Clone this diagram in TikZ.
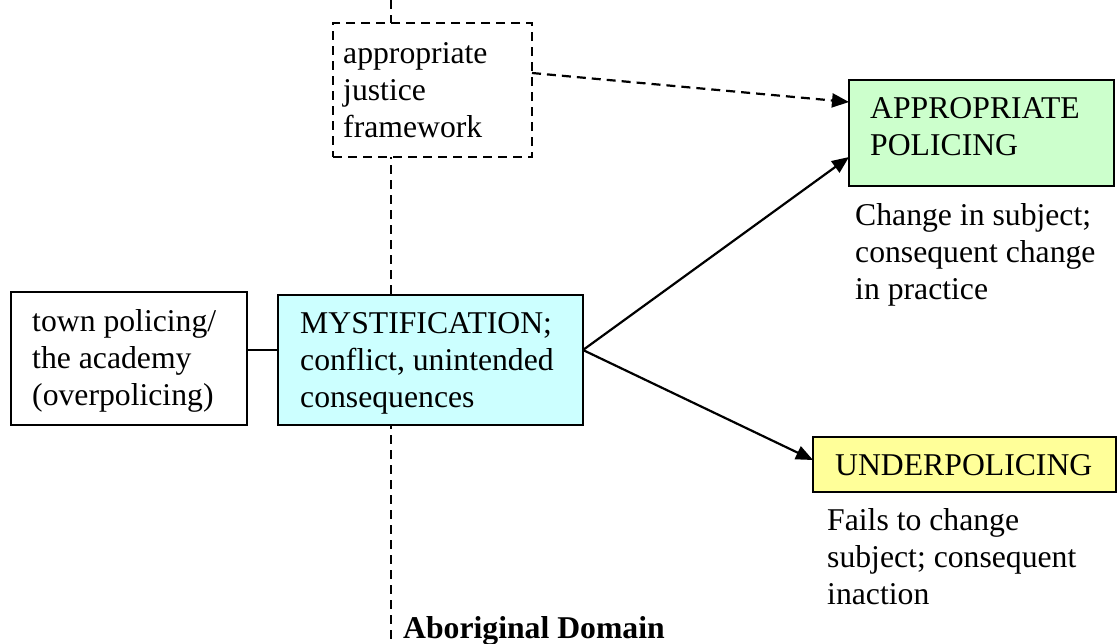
\documentclass[tikz,border=0pt]{standalone}
\usepackage{fontspec}
\setmainfont{Liberation Serif}
\usetikzlibrary{arrows.meta}
\definecolor{cyanfill}{HTML}{CCFFFF}
\definecolor{greenfill}{HTML}{CCFFCC}
\definecolor{yellowfill}{HTML}{FFFF99}
\tikzset{
  boxshape/.style={draw=black, line width=2.5pt, inner sep=0pt, outer sep=0pt, anchor=north west, rectangle},
  dashbox/.style={boxshape, dash pattern=on 9pt off 6pt, fill=white},
  txt/.style={inner sep=0pt, anchor=north west, align=left, font=\fontsize{31.7}{37}\selectfont},
  link/.style={draw=black, line width=2.2pt},
  arrowlink/.style={link, -{Triangle[length=17pt,width=14pt]}},
  dashlink/.style={arrowlink, dash pattern=on 9pt off 6pt},
  divider/.style={draw=black, line width=2.5pt, dash pattern=on 9pt off 6pt}
}
\begin{document}
\begin{tikzpicture}[x=1pt,y=-1pt]
\useasboundingbox (0,0) rectangle (1118,643);
% domain divider
\coordinate (divtop) at (391,0);
\coordinate (divbot) at (391,643);
\draw[divider] (divtop) -- (divbot);
% boxes
\node[dashbox, minimum width=199pt, minimum height=134pt] (ajf) at (333,23) {};
\node[boxshape, minimum width=236pt, minimum height=133pt, fill=white] (town) at (11,292) {};
\node[boxshape, minimum width=305pt, minimum height=130pt, fill=cyanfill] (myst) at (278,295) {};
\node[boxshape, minimum width=265pt, minimum height=106pt, fill=greenfill] (appr) at (849,80) {};
\node[boxshape, minimum width=303pt, minimum height=55pt, fill=yellowfill] (under) at (813,437) {};
% texts
\node[txt] (ajftxt) at (343,37) {\strut appropriate\\justice\\framework};
\node[txt] (towntxt) at (32,305) {\strut town policing/\\the academy\\(overpolicing)};
\node[txt] (mysttxt) at (300,307) {\strut MYSTIFICATION;\\conflict, unintended\\consequences};
\node[txt] (apprtxt) at (870,92) {\strut APPROPRIATE\\POLICING};
\node[txt] (undertxt) at (835,449) {\strut UNDERPOLICING};
\node[txt] (apprcap) at (855,199) {\strut Change in subject;\\consequent change\\in practice};
\node[txt] (undercap) at (827,504) {\strut Fails to change\\subject; consequent\\inaction};
\node[inner sep=0pt, anchor=base west, font=\fontsize{31.7}{37}\selectfont\bfseries] (domain) at (403,638) {Aboriginal Domain};
% connectors
\draw[link] ([yshift=8.5pt]town.east) -- ([yshift=10pt]myst.west);
\draw[arrowlink] ([yshift=10pt]myst.east) -- ([yshift=-24pt]appr.west);
\draw[arrowlink] ([yshift=10pt]myst.east) -- ([yshift=4.5pt]under.west);
\draw[dashlink] ([yshift=17pt]ajf.east) -- ([yshift=31pt]appr.west);
\end{tikzpicture}
\end{document}
